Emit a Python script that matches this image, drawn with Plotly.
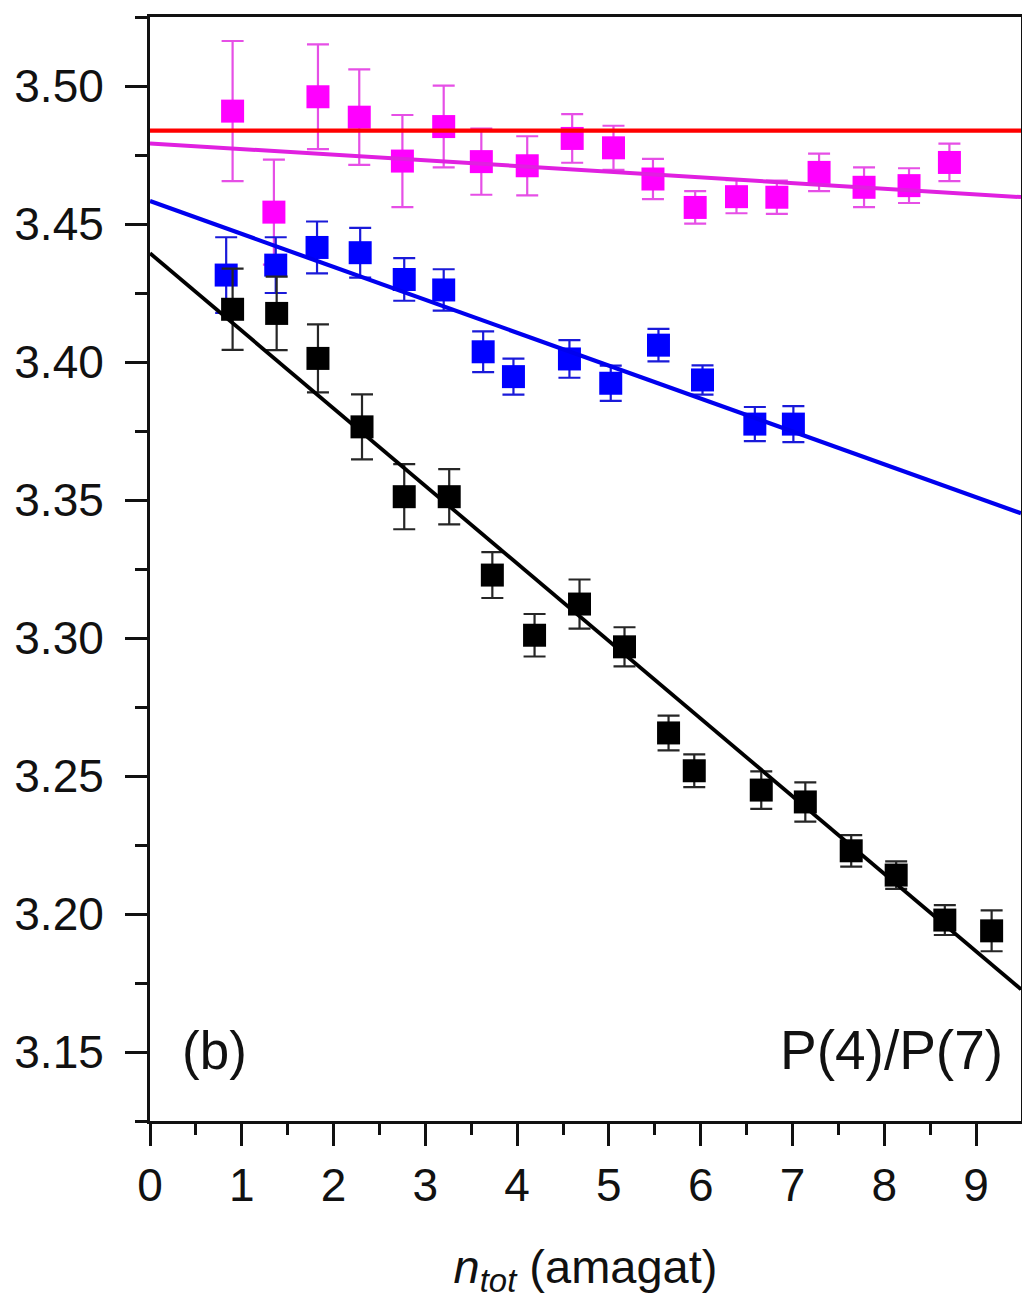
import plotly.graph_objects as go

# Total density (amagat) and measured P(4)/P(7) ratios with uncertainties
x_black = [0.90, 1.38, 1.83, 2.31, 2.77, 3.26, 3.73, 4.19, 4.68, 5.17,
           5.65, 5.93, 6.66, 7.14, 7.64, 8.13, 8.66, 9.17]
y_black = [3.4191, 3.4176, 3.4013, 3.3765, 3.3512, 3.3512, 3.3228, 3.3010, 3.3123, 3.2968,
           3.2656, 3.2519, 3.2449, 3.2406, 3.2229, 3.2141, 3.1978, 3.1939]
e_black = [0.0147, 0.0133, 0.0123, 0.0118, 0.0118, 0.0100, 0.0083, 0.0077, 0.0089, 0.0071,
           0.0063, 0.0059, 0.0068, 0.0071, 0.0057, 0.0050, 0.0054, 0.0074]

x_blue = [0.83, 1.37, 1.82, 2.29, 2.77, 3.20, 3.63, 3.96, 4.57, 5.02,
          5.54, 6.02, 6.59, 7.01]
y_blue = [3.4315, 3.4351, 3.4415, 3.4396, 3.4299, 3.4261, 3.4037, 3.3947, 3.4011, 3.3923,
          3.4061, 3.3935, 3.3775, 3.3775]
e_blue = [0.0137, 0.0101, 0.0094, 0.0090, 0.0077, 0.0075, 0.0074, 0.0065, 0.0068, 0.0064,
          0.0059, 0.0053, 0.0062, 0.0065]

x_mag = [0.90, 1.35, 1.83, 2.28, 2.75, 3.20, 3.61, 4.11, 4.60, 5.05,
         5.48, 5.94, 6.39, 6.83, 7.29, 7.78, 8.27, 8.71]
y_mag = [3.4909, 3.4543, 3.4961, 3.4887, 3.4728, 3.4853, 3.4726, 3.4711, 3.4810, 3.4776,
         3.4663, 3.4560, 3.4599, 3.4597, 3.4687, 3.4633, 3.4639, 3.4723]
e_mag = [0.0254, 0.0190, 0.0190, 0.0173, 0.0167, 0.0148, 0.0120, 0.0107, 0.0088, 0.0080,
         0.0073, 0.0059, 0.0060, 0.0060, 0.0068, 0.0072, 0.0063, 0.0068]

# Linear fits: intercept, slope
fit_black = (3.4394, -0.02810)
fit_blue = (3.4583, -0.01192)
fit_mag = (3.4792, -0.00205)
ref_level = 3.4838

x_range = [0, 9.49]
y_range = [3.125, 3.525]

x_ticks = [0, 1, 2, 3, 4, 5, 6, 7, 8, 9]
y_ticks = [3.15, 3.20, 3.25, 3.30, 3.35, 3.40, 3.45, 3.50]

FONT = "Liberation Sans, Arial, sans-serif"

fig = go.Figure()


def add_points(xs, ys, es, color, bar_color):
    fig.add_trace(go.Scatter(
        x=xs, y=ys, mode="markers",
        marker=dict(symbol="square", size=23, color=color, line=dict(width=0)),
        error_y=dict(type="data", array=es, visible=True, color=bar_color,
                     thickness=2.2, width=11),
        showlegend=False, hoverinfo="x+y",
    ))


def add_fit(fit, color, width):
    b, m = fit
    fig.add_trace(go.Scatter(
        x=x_range, y=[b + m * x_range[0], b + m * x_range[1]],
        mode="lines", line=dict(color=color, width=width),
        showlegend=False, hoverinfo="skip",
    ))


add_points(x_mag, y_mag, e_mag, "#ff00ff", "#e64fe6")
add_points(x_blue, y_blue, e_blue, "#0000ff", "#1a1ad9")
add_points(x_black, y_black, e_black, "#000000", "#262626")

add_fit(fit_black, "#000000", 3.8)
add_fit(fit_blue, "#0000ee", 4.2)
add_fit(fit_mag, "#e020e0", 4)
fig.add_trace(go.Scatter(
    x=x_range, y=[ref_level, ref_level], mode="lines",
    line=dict(color="#ff0000", width=4.2), showlegend=False, hoverinfo="skip",
))

fig.add_annotation(x=0.035, y=0.064, xref="paper", yref="paper", text="(b)",
                   showarrow=False, xanchor="left", yanchor="middle",
                   font=dict(family=FONT, size=53, color="#111111"))
fig.add_annotation(x=0.982, y=0.064, xref="paper", yref="paper", text="P(4)/P(7)",
                   showarrow=False, xanchor="right", yanchor="middle",
                   font=dict(family=FONT, size=55, color="#111111"))

axis_common = dict(
    showgrid=False, zeroline=False, showline=True, linecolor="#111111", linewidth=3,
    mirror=True, ticks="outside", ticklen=22, tickwidth=2.5, tickcolor="#111111",
    tickfont=dict(family=FONT, size=46, color="#111111"),
)

fig.update_xaxes(
    range=x_range, tickvals=x_ticks, **axis_common,
    minor=dict(ticks="outside", ticklen=11, tickwidth=2.5, tickcolor="#111111", dtick=0.5),
    title=dict(text="<i>n</i><sub><i>tot</i></sub> (amagat)",
               font=dict(family=FONT, size=47, color="#111111"), standoff=40),
)
fig.update_yaxes(
    range=y_range, tickvals=y_ticks, tickformat=".2f", **axis_common,
    minor=dict(ticks="outside", ticklen=12, tickwidth=2.5, tickcolor="#111111", dtick=0.025),
    ticklabelstandoff=12,
)

fig.update_layout(
    width=1022, height=1309,
    margin=dict(l=150, r=1, t=17, b=188, autoexpand=False),
    plot_bgcolor="white", paper_bgcolor="white",
    font=dict(family=FONT, color="#111111"),
)

fig.write_html("out.html")
